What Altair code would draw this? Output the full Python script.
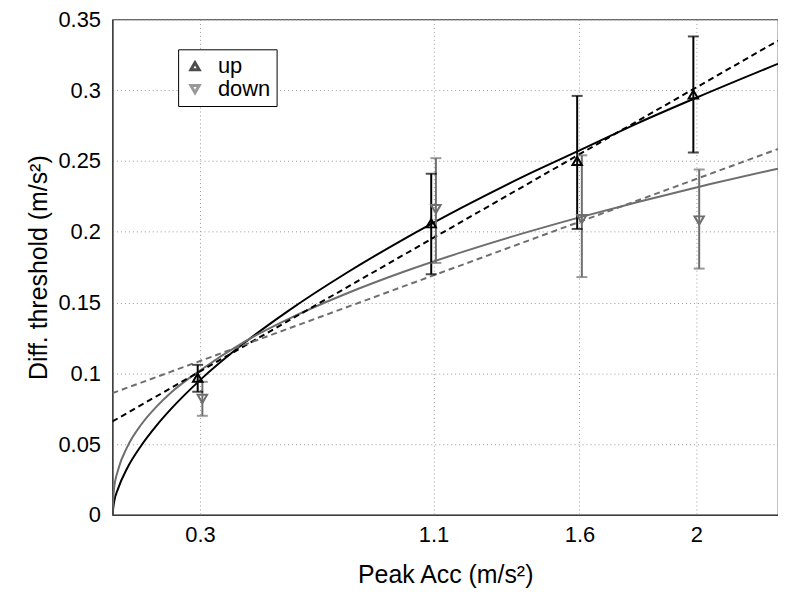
import altair as alt
import pandas as pd

# Measured points (x positions slightly offset as in the figure)
series = ["up", "up", "up", "up", "down", "down", "down", "down"]
x_pts = [0.292, 1.092, 1.592, 1.99, 0.308, 1.108, 1.608, 2.01]
y_mean = [0.097, 0.206, 0.250, 0.297, 0.082, 0.216, 0.209, 0.208]
y_low = [0.087, 0.170, 0.202, 0.256, 0.070, 0.178, 0.168, 0.174]
y_high = [0.106, 0.241, 0.296, 0.338, 0.094, 0.252, 0.254, 0.244]
colors = ["#000000"] * 4 + ["#6e6e6e"] * 4

# Fitted curves
curve_x = [0, 0.005, 0.02, 0.05, 0.1, 0.15, 0.2, 0.3, 0.45, 0.6, 0.8, 1.0, 1.2, 1.4, 1.6, 1.8, 2.0, 2.28]
up_power = [0, 0.0083, 0.0189, 0.0328, 0.0494, 0.0629, 0.0747, 0.0952, 0.1212, 0.1438, 0.1707,
            0.195, 0.2174, 0.2383, 0.2575, 0.2768, 0.2947, 0.3187]
down_power = [0, 0.0178, 0.0322, 0.0477, 0.0642, 0.0763, 0.0863, 0.1020, 0.1221, 0.1381, 0.1562,
              0.1719, 0.1858, 0.1985, 0.2102, 0.2211, 0.2313, 0.2446]
lin_x = [0, 2.28]
up_linear = [0.066, 0.335]
down_linear = [0.086, 0.2585]

x_ticks = [0.3, 1.1, 1.6, 2]
y_ticks = [0, 0.05, 0.1, 0.15, 0.2, 0.25, 0.3, 0.35]

pts = pd.DataFrame({"series": series, "x": x_pts, "y": y_mean, "lo": y_low, "hi": y_high, "col": colors})
curves = pd.DataFrame({"x": curve_x, "up": up_power, "down": down_power})
lines = pd.DataFrame({"x": lin_x, "up": up_linear, "down": down_linear})

xs = alt.Scale(domain=[0, 2.28], nice=False, zero=False)
ys = alt.Scale(domain=[0, 0.35], nice=False)

xax = alt.Axis(values=x_ticks, format="~g", title="Peak Acc (m/s²)", grid=True)
yax = alt.Axis(values=y_ticks, format="~g", title="Diff. threshold (m/s²)", grid=True)

GRAY = "#6e6e6e"

def curve(df, col, color, dash=None):
    kw = dict(color=color, strokeWidth=2, clip=True, interpolate="monotone")
    if dash:
        kw["strokeDash"] = dash
    return alt.Chart(df).mark_line(**kw).encode(
        x=alt.X("x:Q", scale=xs, axis=xax),
        y=alt.Y(f"{col}:Q", scale=ys, axis=yax),
    )

c1 = curve(curves, "up", "#000000")
c2 = curve(curves, "down", GRAY)
c3 = curve(lines, "up", "#000000", [6, 4])
c4 = curve(lines, "down", GRAY, [6, 4])

base = alt.Chart(pts)
rules = base.mark_rule(strokeWidth=2).encode(
    x=alt.X("x:Q", scale=xs, axis=xax),
    y=alt.Y("lo:Q", scale=ys, axis=yax),
    y2="hi:Q",
    color=alt.Color("col:N", scale=None),
)
cap_lo = base.mark_tick(orient="horizontal", size=11, thickness=2).encode(
    x=alt.X("x:Q", scale=xs, axis=xax),
    y=alt.Y("lo:Q", scale=ys, axis=yax),
    color=alt.Color("col:N", scale=None),
)
cap_hi = base.mark_tick(orient="horizontal", size=11, thickness=2).encode(
    x=alt.X("x:Q", scale=xs, axis=xax),
    y=alt.Y("hi:Q", scale=ys, axis=yax),
    color=alt.Color("col:N", scale=None),
)
points = base.mark_point(filled=False, size=90, strokeWidth=2, opacity=1).encode(
    x=alt.X("x:Q", scale=xs, axis=xax),
    y=alt.Y("y:Q", scale=ys, axis=yax),
    color=alt.Color("series:N", scale=alt.Scale(domain=["up", "down"], range=["#000000", GRAY]),
                    legend=alt.Legend(title=None, orient="none", legendX=66, legendY=30,
                                      strokeColor="#000000", fillColor="#ffffff",
                                      padding=6, labelFontSize=22, symbolSize=70,
                                      symbolStrokeWidth=3, labelFont="Liberation Sans",
                                      labelColor="#000000", symbolOpacity=1,
                                      rowPadding=1, symbolOffset=0, labelOffset=12)),
    shape=alt.Shape("series:N", scale=alt.Scale(domain=["up", "down"], range=["triangle-up", "triangle-down"])),
)

chart = alt.layer(c1, c2, c3, c4, rules, cap_lo, cap_hi, points).properties(
    width=669, height=498,
    autosize=alt.AutoSizeParams(type="none"),
    padding={"left": 105, "top": 10, "right": 0, "bottom": 76},
    background="white",
).configure_view(stroke="#333333", strokeWidth=1.2).configure_axis(
    labelFont="Liberation Sans", titleFont="Liberation Sans",
    labelFontSize=22, titleFontSize=25, labelColor="#000", titleColor="#000",
    titleFontWeight="normal", domainColor="#333333", tickColor="#333333",
    tickSize=0, gridColor="#999999", gridDash=[1, 3], gridWidth=1,
).configure_axisY(titlePadding=6, labelPadding=12).configure_axisX(titlePadding=17, labelPadding=10)

chart.save("out.html", embed_options={"renderer": "svg", "actions": False})
